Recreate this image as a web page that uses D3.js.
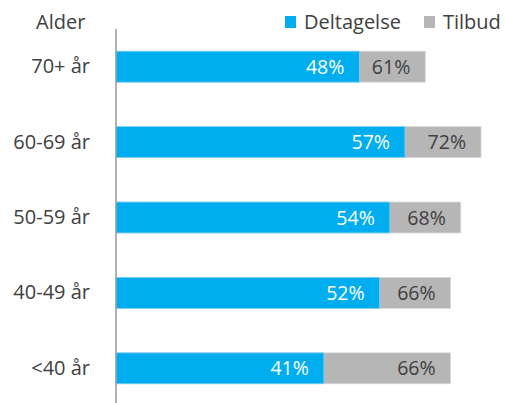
<!DOCTYPE html>
<html>
<head>
<meta charset="utf-8">
<script src="https://cdn.jsdelivr.net/npm/d3@7"></script>
<style>
  body { margin: 0; background: #fff; }
  svg { display: block; font-family: 'Open Sans', sans-serif; }
</style>
</head>
<body>
<svg id="chart" width="506" height="403"></svg>
<script>
const categories = ['70+ år', '60-69 år', '50-59 år', '40-49 år', '<40 år']
const deltagelse = [48, 57, 54, 52, 41]
const tilbud = [61, 72, 68, 66, 66]
const seriesNames = ['Deltagelse', 'Tilbud']

const COLORS = { blue: '#00AEEF', grey: '#B6B6B6', text: '#404040' }
const MARGIN = { left: 116, top: 29 }

const $svg = d3.select('#chart')
const rows = categories.map((c, i) => ({ cat: c, d: deltagelse[i], t: tilbud[i] }))

const xScale = d3.scaleLinear().domain([0, 100]).range([0, 507])
const yScale = d3.scaleBand()
  .domain(categories)
  .range([MARGIN.top, 406])
  .paddingInner(0.59)
  .paddingOuter(0.295)

const $g = $svg.append('g').attr('transform', `translate(${MARGIN.left},0)`)

// grey (Tilbud) behind
$g.selectAll('.bar-t')
  .data(rows)
  .join('rect')
    .attr('class', 'bar-t')
    .attr('x', 0)
    .attr('y', d => yScale(d.cat))
    .attr('width', d => xScale(d.t))
    .attr('height', yScale.bandwidth())
    .attr('fill', COLORS.grey)
    .attr('stroke', '#d9d9d9')
    .attr('stroke-width', 0.8)

// blue (Deltagelse) on top
$g.selectAll('.bar-d')
  .data(rows)
  .join('rect')
    .attr('class', 'bar-d')
    .attr('x', 0)
    .attr('y', d => yScale(d.cat))
    .attr('width', d => xScale(d.d))
    .attr('height', yScale.bandwidth())
    .attr('fill', COLORS.blue)
    .attr('stroke', '#7fd3f4')
    .attr('stroke-width', 0.8)

$g.selectAll('.lab-t')
  .data(rows)
  .join('text')
    .attr('class', 'lab-t')
    .attr('x', d => xScale(d.t) - 15)
    .attr('y', d => yScale(d.cat) + yScale.bandwidth() / 2)
    .attr('dy', '0.36em')
    .attr('text-anchor', 'end')
    .attr('font-size', 19.5)
    .attr('fill', COLORS.text)
    .text(d => `${d.t}%`)

$g.selectAll('.lab-d')
  .data(rows)
  .join('text')
    .attr('class', 'lab-d')
    .attr('x', d => xScale(d.d) - 15)
    .attr('y', d => yScale(d.cat) + yScale.bandwidth() / 2)
    .attr('dy', '0.36em')
    .attr('text-anchor', 'end')
    .attr('font-size', 19.5)
    .attr('fill', '#fff')
    .text(d => `${d.d}%`)

// y axis
const yAxis = $svg.append('g')
  .attr('transform', `translate(${MARGIN.left},0)`)
  .call(d3.axisLeft(yScale).tickSize(0).tickPadding(26))
yAxis.select('.domain').remove()
yAxis.append('line')
  .attr('x1', 0).attr('x2', 0)
  .attr('y1', MARGIN.top).attr('y2', 403)
  .attr('stroke', '#9a9a9a')
  .attr('stroke-width', 1.5)
yAxis.selectAll('text')
  .attr('font-size', 20)
  .attr('font-family', "'Open Sans', sans-serif")
  .attr('fill', COLORS.text)

$svg.append('text')
  .attr('x', 36)
  .attr('y', 29)
  .attr('font-size', 20)
  .attr('fill', COLORS.text)
  .text('Alder')

// legend
const legendX = [285, 424]
const legendColors = [COLORS.blue, COLORS.grey]
const $legend = $svg.selectAll('.legend')
  .data(seriesNames)
  .join('g')
    .attr('class', 'legend')
    .attr('transform', (d, i) => `translate(${legendX[i]},0)`)
$legend.append('rect')
  .attr('x', 0).attr('y', 16)
  .attr('width', 11).attr('height', 12)
  .attr('fill', (d, i) => legendColors[i])
$legend.append('text')
  .attr('x', 19)
  .attr('y', 29)
  .attr('font-size', 20)
  .attr('fill', COLORS.text)
  .text(d => d)
</script>
</body>
</html>
